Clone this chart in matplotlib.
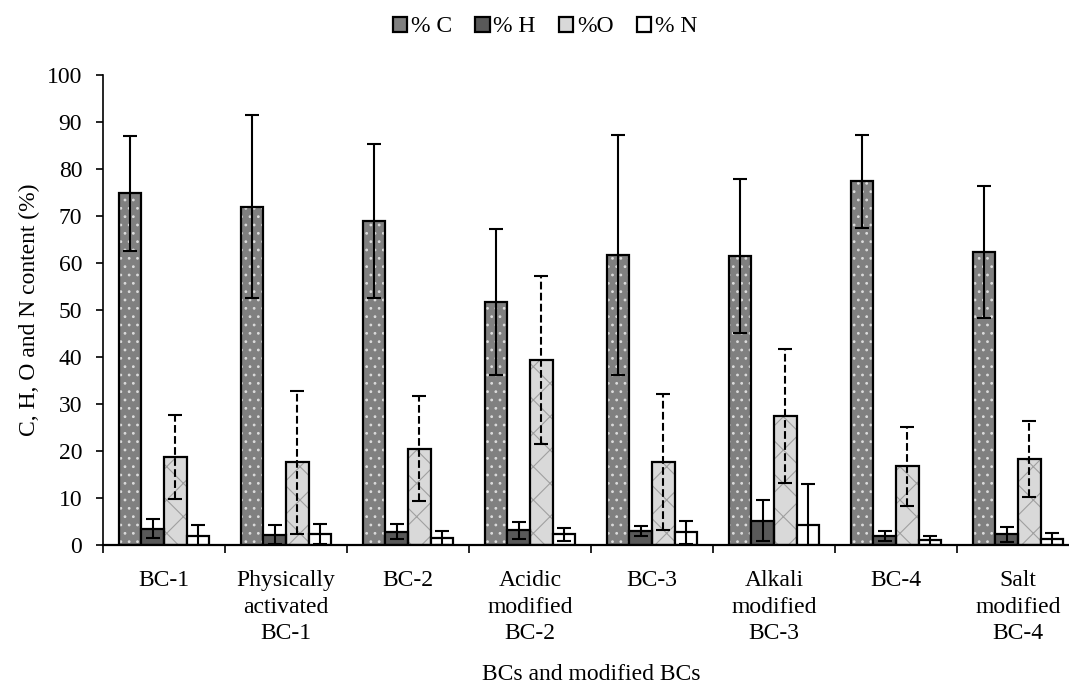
#!/usr/bin/env python3
"""Elemental composition (C, H, O, N) of BCs and modified BCs, grouped bars with SD error bars."""

import matplotlib
matplotlib.use("Agg")
import matplotlib.pyplot as plt
import numpy as np
from matplotlib.patches import Patch

plt.rcParams["font.family"] = ["Liberation Serif", "DejaVu Serif"]
plt.rcParams["hatch.linewidth"] = 0.8

CATEGORIES = [
    "BC-1",
    "Physically\nactivated\nBC-1",
    "BC-2",
    "Acidic\nmodified\nBC-2",
    "BC-3",
    "Alkali\nmodified\nBC-3",
    "BC-4",
    "Salt\nmodified\nBC-4",
]

C_VALS = [74.8, 72.0, 68.9, 51.7, 61.7, 61.5, 77.4, 62.4]
C_ERR = [12.3, 19.5, 16.4, 15.5, 25.6, 16.3, 9.9, 14.0]
H_VALS = [3.5, 2.2, 2.8, 3.1, 3.0, 5.2, 1.9, 2.3]
H_ERR = [2.0, 2.0, 1.6, 1.9, 1.1, 4.4, 1.1, 1.6]
O_VALS = [18.7, 17.6, 20.5, 39.3, 17.6, 27.4, 16.8, 18.3]
O_ERR = [8.9, 15.2, 11.1, 17.9, 14.5, 14.3, 8.4, 8.0]
N_VALS = [2.0, 2.3, 1.5, 2.3, 2.7, 4.3, 1.0, 1.3]
N_ERR = [2.2, 2.1, 1.5, 1.4, 2.4, 8.6, 1.0, 1.2]

LABELS = ["% C", "% H", "%O", "% N"]

# face colour, hatch, hatch colour, error bar style
STYLES = [
    ("#808080", "..", "#dcdcdc", "-"),
    ("#595959", None, None, "-"),
    ("#d9d9d9", "x", "#a0a0a0", "--"),
    ("#ffffff", None, None, "-"),
]

FS = 17

fig = plt.figure(figsize=(10.69, 6.83), dpi=100)
# axis runs a little past the right edge of the picture, as in the original
ax = fig.add_axes([103 / 1069, 138 / 683, 976 / 1069, 470 / 683])

x = np.arange(len(CATEGORIES))
width = 0.186
series = [(C_VALS, C_ERR), (H_VALS, H_ERR), (O_VALS, O_ERR), (N_VALS, N_ERR)]

for i, ((vals, errs), (face, hatch, hcol, ls)) in enumerate(zip(series, STYLES)):
    pos = x + (i - 1.5) * width
    if hatch:
        # hatch layer (hatch takes the edge colour), then a black outline on top
        ax.bar(pos, vals, width, color=face, hatch=hatch, edgecolor=hcol,
               linewidth=0, zorder=2)
        ax.bar(pos, vals, width, fill=False, edgecolor="black", linewidth=1.6, zorder=3)
    else:
        ax.bar(pos, vals, width, color=face, edgecolor="black", linewidth=1.6, zorder=3)
    eb = ax.errorbar(pos, vals, yerr=errs, fmt="none", ecolor="black",
                     elinewidth=1.5, capsize=4.7, capthick=1.5, zorder=4)
    if ls != "-":
        eb[2][0].set_linestyle(ls)

ax.set_xlim(-0.5, len(CATEGORIES) - 0.5)
ax.set_ylim(0, 100)
ax.set_yticks(range(0, 101, 10))
ax.tick_params(axis="y", labelsize=FS, length=5, width=1.2, direction="out", pad=10)

# group separators as major ticks, category names as minor tick labels
ax.set_xticks(np.arange(len(CATEGORIES) + 1) - 0.5)
ax.set_xticklabels([])
ax.tick_params(axis="x", which="major", length=6, width=1.2, direction="out")
ax.set_xticks(x, minor=True)
ax.set_xticklabels(CATEGORIES, minor=True, fontsize=FS, linespacing=1.35)
ax.tick_params(axis="x", which="minor", length=0, pad=18)

for side in ["top", "right"]:
    ax.spines[side].set_visible(False)
ax.spines["left"].set_linewidth(1.2)
ax.spines["bottom"].set_linewidth(1.6)
ax.spines["bottom"].set_zorder(5)

ax.set_ylabel("C, H, O and N content (%)", fontsize=FS)
ax.yaxis.set_label_coords((40 - 103) / 976, 0.5)
ax.set_xlabel("BCs and modified BCs", fontsize=FS)
ax.xaxis.set_label_coords(0.5, (545 - 664) / 470)

handles = [Patch(facecolor=face, edgecolor="black", linewidth=1.6)
           for face, _, _, _ in STYLES]
fig.legend(handles, LABELS, loc="center", bbox_to_anchor=(545 / 1069, 1 - 27 / 683),
           ncol=4, frameon=False, fontsize=FS, handlelength=0.6, handleheight=0.6,
           handletextpad=0.15, columnspacing=1.0, borderaxespad=0)

fig.savefig("out.png", dpi=100)
